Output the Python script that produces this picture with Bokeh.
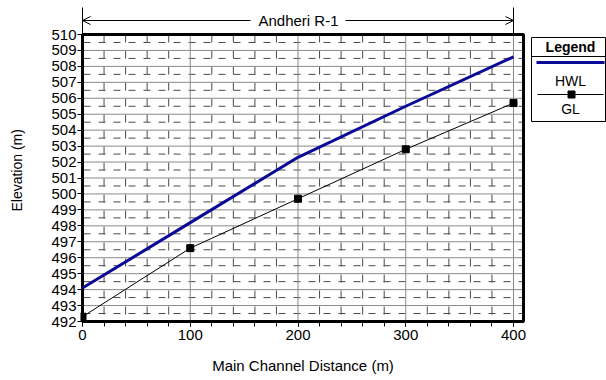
import math
import numpy as np
from bokeh.plotting import figure
from bokeh.layouts import column, row
from bokeh.models import Range1d, SingleIntervalTicker, Arrow, OpenHead
from bokeh.core.properties import value
from bokeh.embed import file_html
from bokeh.resources import INLINE

# ---- data ----
distance = [0, 100, 200, 300, 400]
hwl = [494.1, 498.2, 502.3, 505.5, 508.6]
gl = [492.3, 496.6, 499.7, 502.8, 505.7]
x_ticks = [0, 100, 200, 300, 400]
y_ticks = list(range(492, 511))
reach_name = "Andheri R-1"
series_names = ["HWL", "GL"]
legend_title = "Legend"
x_title = "Main Channel Distance (m)"
y_title = "Elevation (m)"

XMIN, XMAX = 0, 400
YMIN, YMAX = 492, 510
FONT = "Liberation Sans"
BLUE = "#0a0a96"
GRID = "#8a8a8a"
MINOR = "#4a4a4a"

# page-pixel layout
PAGE_W, PAGE_H = 606, 380
PX_X0, PX_X400 = 82, 513          # where x=0 and x=400 fall
PX_Y510, PX_Y492 = 34, 321        # where y=510 and y=492 fall
BOX_R = 523                       # right edge of the plot box
YT_W = 30                         # strip holding the y title
XT_H = 30                         # strip holding the x title
FR_L, FR_B = 80, 323              # bokeh frame of main figure (left, bottom)


def dx(px):
    return XMIN + (px - PX_X0) * (XMAX - XMIN) / (PX_X400 - PX_X0)


def dy(py):
    return YMAX - (py - PX_Y510) * (YMAX - YMIN) / (PX_Y492 - PX_Y510)


def blank(fig):
    fig.outline_line_color = None
    fig.grid.visible = False
    fig.background_fill_color = "white"
    fig.border_fill_color = "white"


MAIN_H = PAGE_H - XT_H

# ---------------- y title strip ----------------
ytf = figure(width=YT_W, height=MAIN_H, output_backend="svg", toolbar_location=None,
             x_range=Range1d(0, YT_W), y_range=Range1d(MAIN_H, 0), min_border=0,
             x_axis_type=None, y_axis_type=None)
blank(ytf)
ytf.text(x=[16], y=[184], text=[y_title], angle=math.pi / 2, text_align="center",
         text_baseline="middle", text_font=value(FONT), text_font_size=value("14px"),
         text_color="black")

# ---------------- main plot ----------------
MAIN_W = PAGE_W - YT_W
p = figure(width=MAIN_W, height=MAIN_H, output_backend="svg", toolbar_location=None,
           x_range=Range1d(dx(FR_L), dx(PAGE_W)), y_range=Range1d(dy(FR_B), dy(0)),
           min_border_left=FR_L - YT_W, min_border_right=0,
           min_border_top=0, min_border_bottom=MAIN_H - FR_B)
blank(p)

xt = SingleIntervalTicker(interval=100, num_minor_ticks=5)
yt = SingleIntervalTicker(interval=1, num_minor_ticks=2)
p.xaxis.ticker = xt
p.yaxis.ticker = yt
p.xaxis.bounds = (XMIN, dx(BOX_R))
p.yaxis.bounds = (YMIN, YMAX)

for ax in (p.xaxis, p.yaxis):
    ax.axis_line_color = None
    ax.major_tick_line_color = "black"
    ax.major_tick_in = 2
    ax.major_tick_out = 3
    ax.major_label_text_font = FONT
    ax.major_label_text_font_size = "15px"
    ax.major_label_text_color = "black"
p.xaxis.minor_tick_line_color = "black"
p.xaxis.minor_tick_in = 2
p.xaxis.minor_tick_out = 3
p.yaxis.minor_tick_line_color = None
p.xaxis.major_label_standoff = 3
p.yaxis.major_label_standoff = 0

# grid, built from the tick arrays
x_minor = [v for v in np.arange(XMIN, XMAX + 1, 20) if v not in x_ticks]
y_minor = [v + 0.5 for v in y_ticks[:-1]]
y_major_in = y_ticks[1:-1]
x_major_in = x_ticks[1:]
xr = dx(BOX_R)
p.segment(x0=[XMIN] * len(y_minor), y0=y_minor, x1=[xr] * len(y_minor), y1=y_minor,
          line_color=MINOR, line_width=1, line_dash="7 8", line_dash_offset=14)
p.segment(x0=x_minor, y0=[YMAX] * len(x_minor), x1=x_minor, y1=[YMIN] * len(x_minor),
          line_color=MINOR, line_width=1, line_dash="8 8", line_dash_offset=0)
p.segment(x0=[XMIN] * len(y_major_in), y0=y_major_in, x1=[xr] * len(y_major_in),
          y1=y_major_in, line_color=GRID, line_width=1)
p.segment(x0=x_major_in, y0=[YMAX] * len(x_major_in), x1=x_major_in,
          y1=[YMIN] * len(x_major_in), line_color=GRID, line_width=1)

# plot box (thick frame)
p.quad(left=[XMIN], right=[xr], bottom=[YMIN], top=[YMAX],
       fill_color=None, line_color="black", line_width=3)

# series
p.line(distance, hwl, line_color=BLUE, line_width=3)
p.line(distance, gl, line_color="black", line_width=1)
p.scatter(distance, gl, marker="square", size=7, fill_color="black", line_color="black")

# ---- reach header ----
hy = dy(20)
p.segment(x0=[distance[0], distance[-1]], y0=[dy(7), dy(7)],
          x1=[distance[0], distance[-1]], y1=[YMAX, YMAX],
          line_color="black", line_width=1)
p.add_layout(Arrow(x_start=dx(250), y_start=hy, x_end=distance[0], y_end=hy, start=None,
                   end=OpenHead(size=8, line_width=1, line_color="black"),
                   line_width=1, line_color="black"))
p.add_layout(Arrow(x_start=dx(345), y_start=hy, x_end=distance[-1], y_end=hy, start=None,
                   end=OpenHead(size=8, line_width=1, line_color="black"),
                   line_width=1, line_color="black"))
p.text(x=[dx(298)], y=[hy], text=[reach_name], text_align="center",
       text_baseline="middle", text_font=value(FONT), text_font_size=value("15px"),
       text_color="black")

# ---- legend box ----
LL, LR, LT, LB, LC = 531, 605, 37, 121, 570
p.quad(left=[dx(LL)], right=[dx(LR)], top=[dy(LT)], bottom=[dy(LB)], fill_color="white",
       line_color="black", line_width=1)
p.segment(x0=[dx(LL)], y0=[dy(56)], x1=[dx(LR)], y1=[dy(56)], line_color="black",
          line_width=1)
p.text(x=[dx(LC)], y=[dy(46)], text=[legend_title], text_align="center",
       text_baseline="middle", text_font=value(FONT), text_font_style="bold",
       text_font_size=value("14px"), text_color="black")
p.segment(x0=[dx(536)], y0=[dy(62)], x1=[dx(604)], y1=[dy(62)], line_color=BLUE,
          line_width=3)
p.text(x=[dx(LC)], y=[dy(80)], text=[series_names[0]], text_align="center",
       text_baseline="middle", text_font=value(FONT), text_font_size=value("14px"),
       text_color="black")
p.segment(x0=[dx(537)], y0=[dy(94)], x1=[dx(603)], y1=[dy(94)], line_color="black",
          line_width=1)
p.scatter(x=[dx(571)], y=[dy(94)], marker="square", size=7, fill_color="black",
          line_color="black")
p.text(x=[dx(LC)], y=[dy(108)], text=[series_names[1]], text_align="center",
       text_baseline="middle", text_font=value(FONT), text_font_size=value("14px"),
       text_color="black")

# ---------------- x title strip ----------------
xtf = figure(width=PAGE_W, height=XT_H, output_backend="svg", toolbar_location=None,
             x_range=Range1d(0, PAGE_W), y_range=Range1d(XT_H, 0), min_border=0,
             x_axis_type=None, y_axis_type=None)
blank(xtf)
xtf.text(x=[(PX_X0 + BOX_R) / 2], y=[365 - MAIN_H], text=[x_title], text_align="center",
         text_baseline="middle", text_font=value(FONT), text_font_size=value("15px"),
         text_color="black")

layout = column(row(ytf, p, spacing=0), xtf, spacing=0)
open("out.html", "w").write(file_html(layout, INLINE))
